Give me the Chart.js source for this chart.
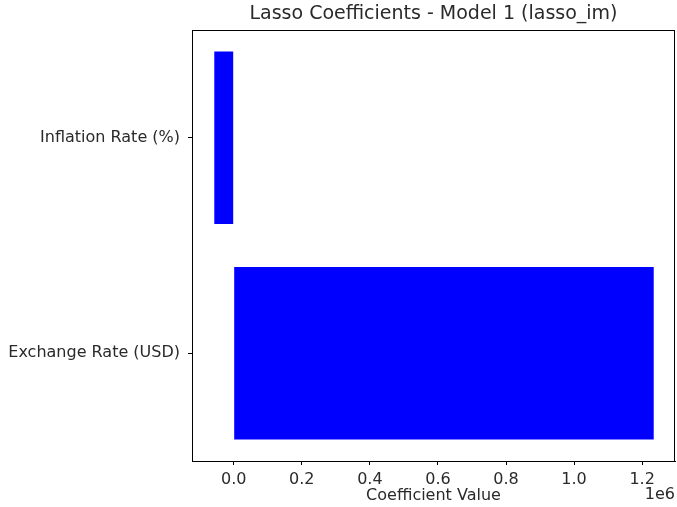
<!DOCTYPE html>
<html>
<head>
<meta charset="utf-8">
<script src="https://cdn.jsdelivr.net/npm/chart.js@4"></script>
<style>
    body { margin: 0; background: #fff; }
    #wrap { width: 677px; height: 507px; }
</style>
</head>
<body>
<div id="wrap"><canvas id="lassoChart" width="677" height="507"></canvas></div>
<script>
// Data
const categories = ['Inflation Rate (%)', 'Exchange Rate (USD)'];
const coefficients = [-57000, 1234000];
const xTickValues = [0, 0.2, 0.4, 0.6, 0.8, 1.0, 1.2]; // in units of 1e6
const xScaleFactor = 1e6;
const offsetLabel = '1e6';
const chartTitle = 'Lasso Coefficients - Model 1 (lasso_im)';
const xTitle = 'Coefficient Value';

const textColor = '#2a2a2a';
const fontFamily = 'DejaVu Sans';

// title over the axes, top/right spines and the "1e6" offset text, like matplotlib
const framePlugin = {
    id: 'frame',
    afterDraw(chart) {
        const { ctx, chartArea } = chart;
        ctx.save();
        ctx.strokeStyle = '#000';
        ctx.lineWidth = 1;
        ctx.strokeRect(Math.round(chartArea.left) + 0.5, Math.round(chartArea.top) + 0.5,
            Math.round(chartArea.right - chartArea.left) - 1, Math.round(chartArea.bottom - chartArea.top));
        ctx.fillStyle = textColor;
        ctx.textBaseline = 'middle';

        ctx.font = '19px "' + fontFamily + '"';
        ctx.textAlign = 'center';
        ctx.fillText(chartTitle, (chartArea.left + chartArea.right) / 2, 14);

        ctx.font = '16px "' + fontFamily + '"';
        ctx.textAlign = 'right';
        ctx.fillText(offsetLabel, chartArea.right, 495);
        ctx.restore();
    }
};

const ctx = document.getElementById('lassoChart').getContext('2d');
new Chart(ctx, {
    type: 'bar',
    data: {
        labels: categories,
        datasets: [{
            data: coefficients,
            backgroundColor: '#0000ff',
            borderWidth: 0,
            barPercentage: 0.8,
            categoryPercentage: 1.0
        }]
    },
    options: {
        indexAxis: 'y',
        responsive: false,
        animation: false,
        layout: { padding: { top: 30, right: 2 } },
        plugins: {
            legend: { display: false },
            tooltip: { enabled: false },
            title: { display: false }
        },
        scales: {
            x: {
                type: 'linear',
                min: -122500,
                max: 1296500,
                afterBuildTicks(scale) {
                    scale.ticks = xTickValues.map(v => ({ value: v * xScaleFactor }));
                },
                afterFit(scale) { scale.height = 46; },
                grid: { drawOnChartArea: false, tickLength: 4, color: '#000' },
                border: { color: '#000' },
                ticks: {
                    color: textColor,
                    padding: 5,
                    maxRotation: 0,
                    font: { family: fontFamily, size: 16 },
                    callback: v => (v / xScaleFactor).toFixed(1)
                },
                title: {
                    display: true,
                    text: xTitle,
                    color: textColor,
                    font: { family: fontFamily, size: 16 },
                    padding: { top: 0, bottom: 2 }
                }
            },
            y: {
                afterFit(scale) { scale.width = 192; },
                grid: { drawOnChartArea: false, offset: false, tickLength: 4, color: '#000' },
                border: { color: '#000' },
                ticks: {
                    color: textColor,
                    padding: 8,
                    font: { family: fontFamily, size: 16 }
                }
            }
        }
    },
    plugins: [framePlugin]
});
</script>
</body>
</html>
